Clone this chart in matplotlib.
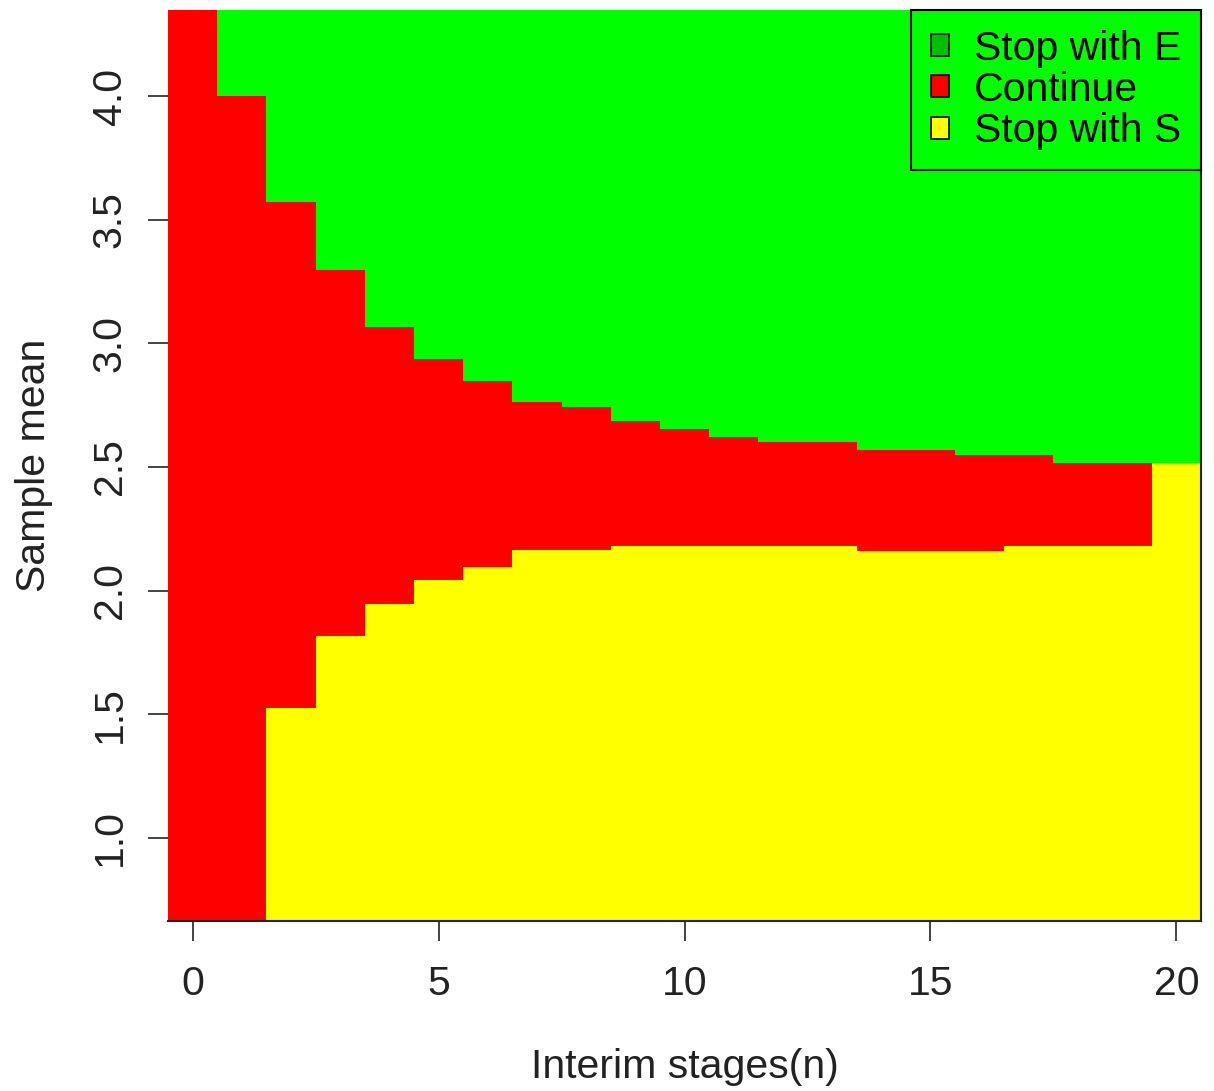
import matplotlib
matplotlib.use("Agg")
import matplotlib.pyplot as plt
from matplotlib.patches import Patch
import numpy as np

plt.rcParams['font.family'] = ['Liberation Sans', 'DejaVu Sans']

# decision regions, one value per interim stage
stages = np.arange(0, 21)
# green (stop with E) above this mean; nan = no green at that stage
upper = np.array([np.nan, 4.0, 3.571, 3.296, 3.066, 2.937, 2.848, 2.763, 2.742, 2.686,
                  2.653, 2.621, 2.601, 2.601, 2.569, 2.569, 2.548, 2.548, 2.516, 2.516, 2.516])
# yellow (stop with S) below this mean; nan = no yellow at that stage
lower = np.array([np.nan, np.nan, 1.525, 1.816, 1.946, 2.043, 2.095, 2.164, 2.164, 2.180,
                  2.180, 2.180, 2.180, 2.180, 2.162, 2.162, 2.162, 2.180, 2.180, 2.180, 2.516])

labels = ["Stop with E", "Continue", "Stop with S"]
ymin, ymax = 0.664, 4.348

up = np.where(np.isnan(upper), ymax, upper)
lo = np.where(np.isnan(lower), ymin, lower)

fig = plt.figure(figsize=(12.14, 10.91), dpi=100)
ax = fig.add_axes([168/1214, 1 - 921/1091, (1201-168)/1214, (921-10)/1091])

ax.bar(stages, lo - ymin, bottom=ymin, width=1.0, color="#FFFF00", linewidth=0, antialiased=False)
ax.bar(stages, up - lo, bottom=lo, width=1.0, color="#FF0000", linewidth=0, antialiased=False)
ax.bar(stages, ymax - up, bottom=up, width=1.0, color="#00FF00", linewidth=0, antialiased=False)

ax.set_xlim(-0.5, 20.5)
ax.set_ylim(ymin, ymax)
ax.set_xticks([0, 5, 10, 15, 20])
ax.set_yticks([1.0, 1.5, 2.0, 2.5, 3.0, 3.5, 4.0])
ax.set_yticklabels(["1.0", "1.5", "2.0", "2.5", "3.0", "3.5", "4.0"], rotation=90, va="center")
ax.tick_params(axis="x", length=14.4, width=1.2, pad=17, labelsize=29.5, colors="#222222")
ax.tick_params(axis="y", length=14.4, width=1.2, pad=14, labelsize=29.5, colors="#222222")

for s in ["top", "left"]:
    ax.spines[s].set_visible(False)
for s in ["bottom", "right"]:
    ax.spines[s].set_linewidth(1.5)
    ax.spines[s].set_color("#222222")

ax.set_xlabel("Interim stages(n)", fontsize=29.5, color="#222222", labelpad=33)
ax.set_ylabel("Sample mean", fontsize=29.5, color="#222222", labelpad=27)

handles = [Patch(facecolor=c, edgecolor="black", linewidth=1.2)
           for c in ["#00C000", "#FF0000", "#FFFF00"]]
leg = ax.legend(handles, labels, loc="upper right", bbox_to_anchor=(1.0, 1.0),
                borderaxespad=0, fontsize=29.5, frameon=True, fancybox=False,
                facecolor="#00FF00", edgecolor="black", framealpha=1,
                handlelength=0.45, handleheight=0.45, handletextpad=0.6,
                labelspacing=0.08, borderpad=0.48)
leg.get_frame().set_linewidth(1.5)

fig.savefig("out.png", dpi=100)
